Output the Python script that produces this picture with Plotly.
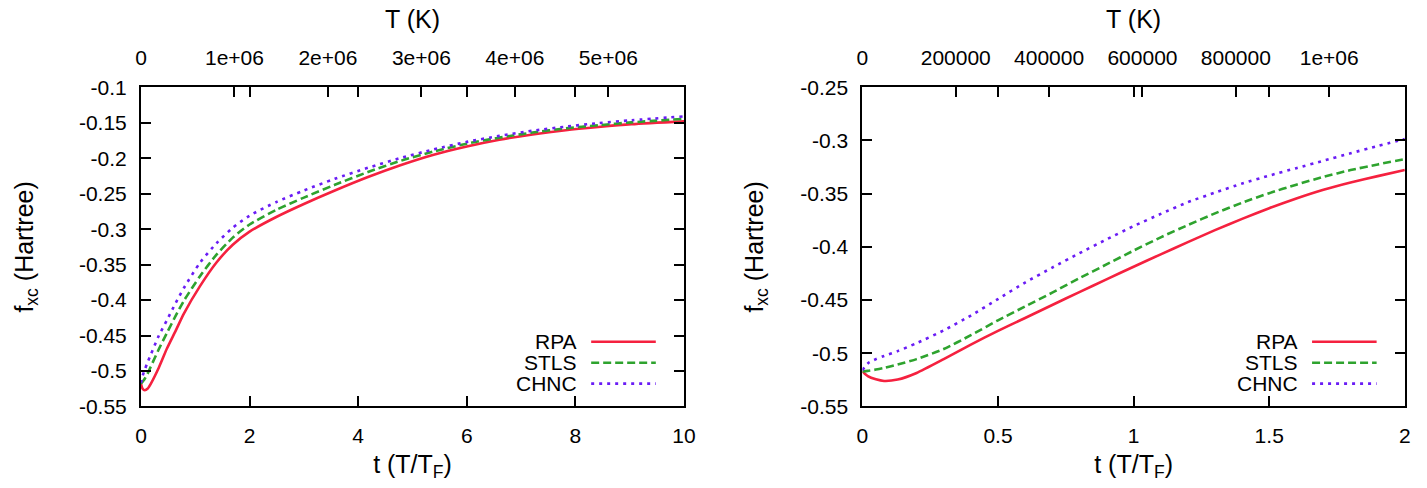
import plotly.graph_objects as go

# ---------------- data ----------------
T_F = 581000.0  # Fermi temperature (K) used for the top axis

t_left = [0, 0.03, 0.07, 0.12, 0.18, 0.33, 0.48, 0.64, 0.79, 1.09, 1.39, 1.69, 2.0, 2.5,
          3.0, 3.57, 4.18, 4.79, 5.39, 6.0, 6.6, 7.21, 7.82, 8.42, 9.03, 10]
rpa_left = [-0.518, -0.525, -0.527, -0.525, -0.518, -0.495, -0.468, -0.443, -0.419, -0.380,
            -0.347, -0.322, -0.3035, -0.2825, -0.2645, -0.2455, -0.2265, -0.2095, -0.195, -0.1835,
            -0.174, -0.1665, -0.1605, -0.156, -0.152, -0.148]
stls_left = [-0.518, -0.515, -0.511, -0.504, -0.494, -0.469, -0.446, -0.422, -0.401, -0.366,
             -0.336, -0.312, -0.2935, -0.2725, -0.2555, -0.2375, -0.2195, -0.2035, -0.1905, -0.1795,
             -0.171, -0.1638, -0.158, -0.1535, -0.1495, -0.1445]
chnc_left = [-0.517, -0.507, -0.498, -0.488, -0.477, -0.450, -0.428, -0.404, -0.383, -0.347,
             -0.320, -0.298, -0.281, -0.2615, -0.2455, -0.229, -0.2135, -0.1995, -0.1875, -0.177,
             -0.1685, -0.1613, -0.1555, -0.1505, -0.1465, -0.141]

t_right = [0, 0.02, 0.05, 0.08, 0.13, 0.2, 0.3, 0.4, 0.5, 0.6, 0.7, 0.8, 0.9, 1.0, 1.1, 1.2,
           1.3, 1.4, 1.5, 1.6, 1.7, 1.8, 1.9, 2.0]
rpa_right = [-0.517, -0.5215, -0.5245, -0.526, -0.5247, -0.5185, -0.5055, -0.4918, -0.479,
             -0.4668, -0.4546, -0.4425, -0.4305, -0.4187, -0.407, -0.3955, -0.3843, -0.3737,
             -0.3637, -0.3545, -0.3463, -0.3395, -0.3335, -0.3277]
stls_right = [-0.517, -0.5165, -0.5153, -0.5138, -0.5105, -0.5055, -0.496, -0.483, -0.469,
              -0.456, -0.443, -0.4295, -0.4165, -0.4035, -0.391, -0.3795, -0.3685, -0.3585,
              -0.3495, -0.3415, -0.3342, -0.3278, -0.3225, -0.3175]
chnc_right = [-0.516, -0.5095, -0.5055, -0.5025, -0.498, -0.4905, -0.4785, -0.4645, -0.449,
              -0.4335, -0.4195, -0.406, -0.393, -0.3805, -0.369, -0.358, -0.349, -0.3405,
              -0.333, -0.326, -0.319, -0.312, -0.3052, -0.2985]

series_names = ["RPA", "STLS", "CHNC"]

x_left_ticks = [0, 2, 4, 6, 8, 10]
x_left_labels = ["0", "2", "4", "6", "8", "10"]
y_left_ticks = [-0.55, -0.5, -0.45, -0.4, -0.35, -0.3, -0.25, -0.2, -0.15, -0.1]
y_left_labels = ["-0.55", "-0.5", "-0.45", "-0.4", "-0.35", "-0.3", "-0.25", "-0.2", "-0.15", "-0.1"]
top_left_ticks = [0, 1e6, 2e6, 3e6, 4e6, 5e6]
top_left_labels = ["0", "1e+06", "2e+06", "3e+06", "4e+06", "5e+06"]

x_right_ticks = [0, 0.5, 1, 1.5, 2]
x_right_labels = ["0", "0.5", "1", "1.5", "2"]
y_right_ticks = [-0.55, -0.5, -0.45, -0.4, -0.35, -0.3, -0.25]
y_right_labels = ["-0.55", "-0.5", "-0.45", "-0.4", "-0.35", "-0.3", "-0.25"]
top_right_ticks = [0, 2e5, 4e5, 6e5, 8e5, 1e6]
top_right_labels = ["0", "200000", "400000", "600000", "800000", "1e+06"]

# ---------------- styles ----------------
colors = ["#f5213f", "#2ea32e", "#6a1cf5"]
dashes = ["solid", "8px,4px", "3px,5px"]
FONT = "Liberation Sans, Arial, sans-serif"
FS = 21

fig = go.Figure()
for ys, name, c, d in zip([rpa_left, stls_left, chnc_left], series_names, colors, dashes):
    fig.add_trace(go.Scatter(x=t_left, y=ys, name=name, mode="lines", xaxis="x", yaxis="y",
                             line=dict(color=c, width=2.6, dash=d, shape="spline", smoothing=0.7),
                             showlegend=False))
for ys, name, c, d in zip([rpa_right, stls_right, chnc_right], series_names, colors, dashes):
    fig.add_trace(go.Scatter(x=t_right, y=ys, name=name, mode="lines", xaxis="x2", yaxis="y2",
                             line=dict(color=c, width=2.6, dash=d, shape="spline", smoothing=0.6),
                             showlegend=False))

# invisible companions so that the top temperature axes are drawn
fig.add_trace(go.Scatter(x=[t * T_F for t in t_left], y=rpa_left, xaxis="x3", yaxis="y",
                         mode="lines", line=dict(width=0), opacity=0, hoverinfo="skip",
                         showlegend=False))
fig.add_trace(go.Scatter(x=[t * T_F for t in t_right], y=rpa_right, xaxis="x4", yaxis="y2",
                         mode="lines", line=dict(width=0), opacity=0, hoverinfo="skip",
                         showlegend=False))

W, H = 1427, 488
dom_l = [136.7 / W, 686.7 / W]
dom_r = [867.3 / W, 1416.7 / W]
dom_y = [(H - 414) / H, (H - 79) / H]

common = dict(showline=True, linecolor="black", linewidth=2, ticks="inside", ticklen=10,
              tickwidth=1.5, tickcolor="black", showgrid=False, zeroline=False,
              tickfont=dict(family=FONT, size=FS, color="black"))

fig.update_layout(
    width=W, height=H, margin=dict(l=0, r=0, t=0, b=0),
    paper_bgcolor="white", plot_bgcolor="white",
    font=dict(family=FONT, size=FS, color="black"),
    xaxis=dict(domain=dom_l, range=[0, 10], tickvals=x_left_ticks, ticktext=x_left_labels,
               mirror="ticks", anchor="y", ticklabelstandoff=9,
               title=dict(text="t (T/T<sub>F</sub>)", standoff=10), **common),
    yaxis=dict(domain=dom_y, range=[-0.55, -0.1], tickvals=y_left_ticks, ticktext=y_left_labels,
               mirror="ticks", anchor="x", ticklabelstandoff=8,
               title=dict(text="f<sub>xc</sub> (Hartree)", standoff=38), **common),
    xaxis3=dict(overlaying="x", side="top", anchor="y", range=[0, 10 * T_F],
                tickvals=top_left_ticks, ticktext=top_left_labels, ticklabelstandoff=17,
                title=dict(text="T (K)", standoff=10),
                **{**common, "showline": False}),
    xaxis2=dict(domain=dom_r, range=[0, 2], tickvals=x_right_ticks, ticktext=x_right_labels,
                mirror="ticks", anchor="y2", ticklabelstandoff=9,
                title=dict(text="t (T/T<sub>F</sub>)", standoff=10), **common),
    yaxis2=dict(domain=dom_y, range=[-0.55, -0.25], tickvals=y_right_ticks, ticktext=y_right_labels,
                mirror="ticks", anchor="x2", ticklabelstandoff=8,
                title=dict(text="f<sub>xc</sub> (Hartree)", standoff=30), **common),
    xaxis4=dict(overlaying="x2", side="top", anchor="y2", range=[0, 2 * T_F],
                tickvals=top_right_ticks, ticktext=top_right_labels, ticklabelstandoff=17,
                title=dict(text="T (K)", standoff=10),
                **{**common, "showline": False}),
)

# gnuplot-style key: label on the left, line sample on the right
key_y = [0.203, 0.137, 0.0716]
for xr, yr in [("x", "y"), ("x2", "y2")]:
    for name, c, d, ky in zip(series_names, colors, dashes, key_y):
        fig.add_annotation(x=0.806, y=ky, xref=f"{xr} domain", yref=f"{yr} domain",
                           text=name, showarrow=False, xanchor="right", yanchor="middle",
                           font=dict(family=FONT, size=FS, color="black"))
        fig.add_shape(type="line", x0=0.829, x1=0.948, y0=ky, y1=ky,
                      xref=f"{xr} domain", yref=f"{yr} domain",
                      line=dict(color=c, width=2.6, dash=d))

fig.write_html("out.html")
